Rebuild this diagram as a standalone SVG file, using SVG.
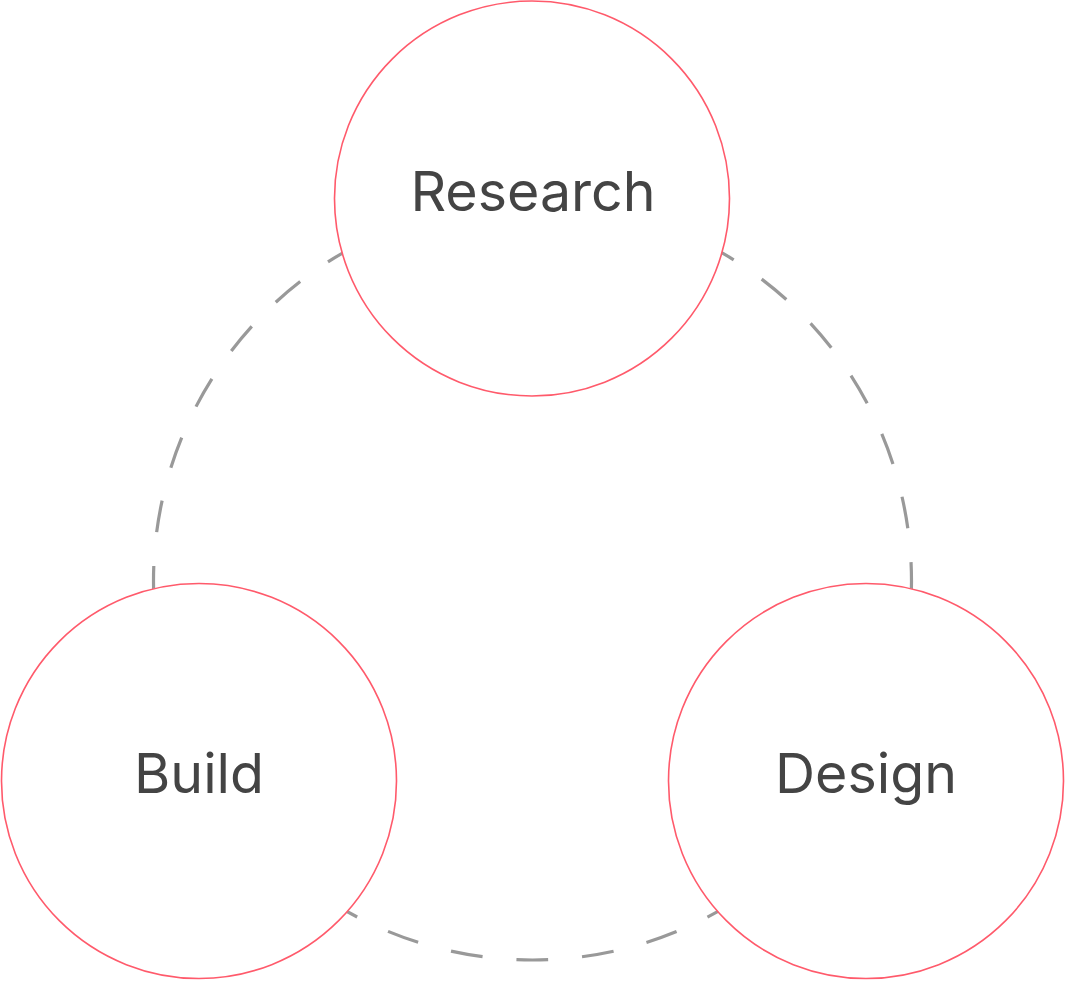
<svg xmlns="http://www.w3.org/2000/svg" width="1065" height="981" viewBox="0 0 1065 981">
<style>
.node circle{fill:#fff;stroke:#FF5A6B;stroke-width:1.6}
.node text{font-family:Inter,"Noto Sans","Liberation Sans",sans-serif;font-size:55.5px;fill:#444;text-anchor:middle}
.cycle{fill:none;stroke:#999;stroke-width:3.2;stroke-dasharray:32 34;stroke-dashoffset:14.7}
</style>
<rect width="1065" height="981" fill="#fff"/>
<g id="connectors">
<circle class="cycle" cx="532.5" cy="581" r="379"/>
</g>
<g id="research" class="node">
<circle cx="532" cy="198.5" r="197.5"/>
<text x="533" y="211">Research</text>
</g>
<g id="build" class="node">
<circle cx="199" cy="781" r="197.5"/>
<text x="199" y="793">Build</text>
</g>
<g id="design" class="node">
<circle cx="866" cy="781" r="197.5"/>
<text x="866" y="793">Design</text>
</g>
</svg>
